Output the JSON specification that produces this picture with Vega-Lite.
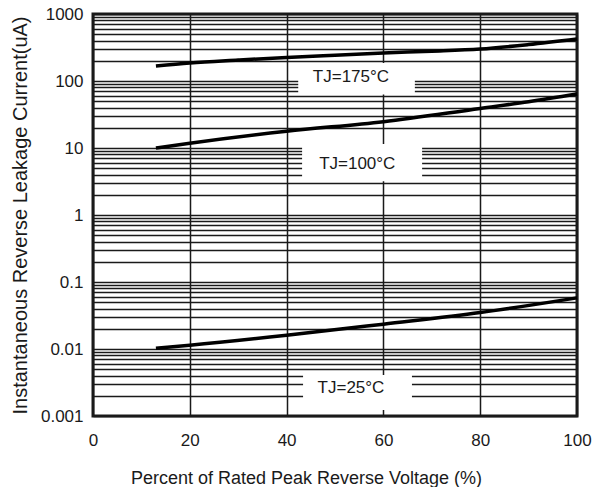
{
  "$schema": "https://vega.github.io/schema/vega-lite/v6.json",
  "width": 484,
  "height": 402,
  "autosize": {"type": "none"},
  "padding": {"left": 93, "top": 14, "right": 26, "bottom": 71},
  "background": "white",
  "config": {
    "view": {"stroke": "#1a1a1a", "strokeWidth": 3},
    "axis": {
      "labelFont": "Liberation Sans",
      "titleFont": "Liberation Sans",
      "labelColor": "#1a1a1a",
      "titleColor": "#1a1a1a",
      "titleFontWeight": "normal",
      "domain": false,
      "ticks": false,
      "grid": true,
      "gridColor": "#1a1a1a",
      "gridWidth": 1.5,
      "gridOpacity": 1,
      "labelFlush": false
    }
  },
  "datasets": {
    "curves": [
      {"tj": "175", "pct": 13, "current": 167},
      {"tj": "175", "pct": 20, "current": 185},
      {"tj": "175", "pct": 30, "current": 205},
      {"tj": "175", "pct": 40, "current": 225},
      {"tj": "175", "pct": 50, "current": 243},
      {"tj": "175", "pct": 60, "current": 262},
      {"tj": "175", "pct": 70, "current": 278},
      {"tj": "175", "pct": 80, "current": 300},
      {"tj": "175", "pct": 90, "current": 350},
      {"tj": "175", "pct": 100, "current": 424},
      {"tj": "100", "pct": 13, "current": 10},
      {"tj": "100", "pct": 20, "current": 11.8},
      {"tj": "100", "pct": 40, "current": 17.8},
      {"tj": "100", "pct": 60, "current": 24.7},
      {"tj": "100", "pct": 80, "current": 39},
      {"tj": "100", "pct": 90, "current": 49},
      {"tj": "100", "pct": 100, "current": 64},
      {"tj": "25", "pct": 13, "current": 0.0103},
      {"tj": "25", "pct": 20, "current": 0.0114},
      {"tj": "25", "pct": 40, "current": 0.016},
      {"tj": "25", "pct": 60, "current": 0.0235},
      {"tj": "25", "pct": 80, "current": 0.035},
      {"tj": "25", "pct": 100, "current": 0.058}
    ],
    "boxes": [
      {"tj": "175", "x1": 42.4, "x2": 66.5, "y1": 63, "y2": 185},
      {"tj": "100", "x1": 43.2, "x2": 68, "y1": 3.2, "y2": 11.5},
      {"tj": "25", "x1": 43.4, "x2": 65.9, "y1": 0.00123, "y2": 0.0041}
    ],
    "labels": [
      {"tj": "175", "label": "TJ=175°C", "pct": 53.3, "current": 115},
      {"tj": "100", "label": "TJ=100°C", "pct": 54.6, "current": 5.77},
      {"tj": "25", "label": "TJ=25°C", "pct": 53.3, "current": 0.00262}
    ]
  },
  "layer": [
    {
      "data": {"name": "boxes"},
      "mark": {"type": "rect", "fill": "white", "stroke": null},
      "encoding": {
        "x": {
          "field": "x1",
          "type": "quantitative",
          "scale": {"domain": [0, 100], "nice": false},
          "axis": {
            "values": [0, 20, 40, 60, 80, 100],
            "title": "Percent of Rated Peak Reverse Voltage (%)",
            "labelFontSize": 17,
            "titleFontSize": 18,
            "labelPadding": 16,
            "titlePadding": 21,
            "titleX": 213
          }
        },
        "x2": {"field": "x2"},
        "y": {
          "field": "y1",
          "type": "quantitative",
          "scale": {"type": "log", "domain": [0.001, 1000], "nice": false},
          "axis": {
            "values": [0.001, 0.002, 0.003, 0.004, 0.005, 0.006, 0.007, 0.008, 0.009,
                       0.01, 0.02, 0.03, 0.04, 0.05, 0.06, 0.07, 0.08, 0.09,
                       0.1, 0.2, 0.3, 0.4, 0.5, 0.6, 0.7, 0.8, 0.9,
                       1, 2, 3, 4, 5, 6, 7, 8, 9,
                       10, 20, 30, 40, 50, 60, 70, 80, 90,
                       100, 200, 300, 400, 500, 600, 700, 800, 900, 1000],
            "format": "~g",
            "labelExpr": "abs(log(datum.value)/LN10 - round(log(datum.value)/LN10)) < 0.000001 ? datum.label : ''",
            "labelOverlap": false,
            "title": "Instantaneous Reverse Leakage Current(uA)",
            "labelFontSize": 17,
            "titleFontSize": 20,
            "labelPadding": 10,
            "titlePadding": 10
          }
        },
        "y2": {"field": "y2"}
      }
    },
    {
      "data": {"name": "curves"},
      "mark": {"type": "line", "strokeWidth": 3.5, "color": "#000000", "interpolate": "monotone"},
      "encoding": {
        "x": {"field": "pct", "type": "quantitative"},
        "y": {"field": "current", "type": "quantitative"},
        "detail": {"field": "tj"}
      }
    },
    {
      "data": {"name": "labels"},
      "mark": {"type": "text", "fontSize": 17, "font": "Liberation Sans", "color": "#1a1a1a", "align": "center", "baseline": "middle"},
      "encoding": {
        "x": {"field": "pct", "type": "quantitative"},
        "y": {"field": "current", "type": "quantitative"},
        "text": {"field": "label"}
      }
    }
  ]
}
